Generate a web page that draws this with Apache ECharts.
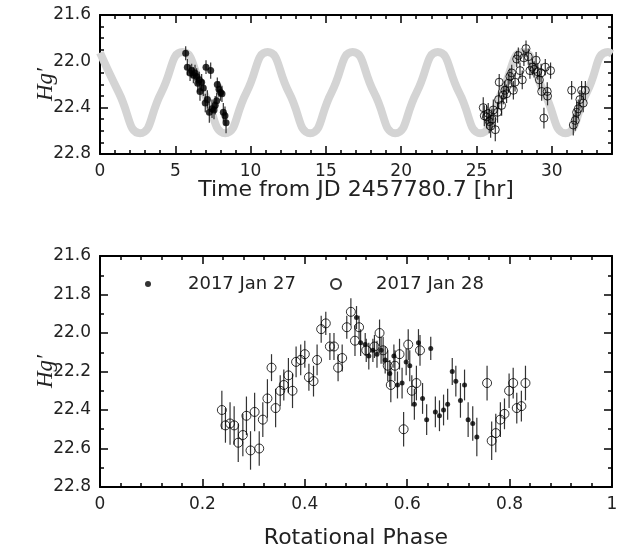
<!DOCTYPE html>
<html>
<head>
<meta charset="utf-8">
<script src="https://cdn.jsdelivr.net/npm/echarts@6/dist/echarts.min.js"></script>
<style>
  html, body { margin: 0; padding: 0; background: #fff; }
  #main { width: 628px; height: 552px; }
</style>
</head>
<body>
<div id="main"></div>
<script>
// model curve (grey), read at peaks / troughs / crossings
var modelTime = [0, 1.25, 2.66, 4.07, 5.48, 6.9, 8.31, 9.72, 11.13, 12.55, 13.96, 15.37, 16.78, 18.2, 19.61, 21.02, 22.43, 23.85, 25.26, 26.67, 28.08, 29.5, 30.91, 32.32, 33.73, 34];
var modelMag = [21.925, 22.27, 22.62, 22.27, 21.92, 22.27, 22.62, 22.27, 21.92, 22.27, 22.62, 22.27, 21.92, 22.27, 22.62, 22.27, 21.92, 22.27, 22.62, 22.27, 21.92, 22.27, 22.62, 22.27, 21.92, 21.935];

// 2017 Jan 27 (filled), time from JD 2457780.7 [hr]
var jan27Time = [5.69, 5.80, 5.98, 6.09, 6.20, 6.31, 6.42, 6.49, 6.59, 6.64, 6.75, 6.86, 6.99, 7.04, 7.13, 7.26, 7.35, 7.44, 7.57, 7.65, 7.75, 7.79, 7.90, 8.01, 8.10, 8.19, 8.30, 8.37];
var jan27Mag = [21.93, 22.05, 22.10, 22.08, 22.12, 22.10, 22.13, 22.19, 22.16, 22.26, 22.18, 22.23, 22.36, 22.05, 22.33, 22.44, 22.08, 22.41, 22.42, 22.38, 22.34, 22.20, 22.24, 22.27, 22.28, 22.44, 22.47, 22.53];
var jan27Err = [0.06, 0.07, 0.07, 0.06, 0.07, 0.07, 0.07, 0.08, 0.07, 0.08, 0.07, 0.07, 0.08, 0.06, 0.08, 0.09, 0.07, 0.08, 0.08, 0.08, 0.07, 0.06, 0.07, 0.07, 0.07, 0.08, 0.08, 0.09];

// 2017 Jan 28 (open)
var jan28Time = [25.45, 25.52, 25.67, 25.78, 25.85, 25.94, 26.03, 26.12, 26.25, 26.40, 26.47, 26.51, 26.67, 26.78, 26.89, 27.00, 27.11, 27.22, 27.34, 27.45, 27.56, 27.67, 27.78, 27.89, 28.04, 28.15, 28.29, 28.44, 28.55, 28.71, 28.83, 28.96, 29.07, 29.18, 29.29, 29.33, 29.48, 29.57, 29.70, 29.72, 29.92, 31.32, 31.43, 31.56, 31.65, 31.76, 31.87, 31.98, 32.09, 32.23];
var jan28Mag = [22.40, 22.47, 22.48, 22.45, 22.52, 22.56, 22.50, 22.42, 22.59, 22.44, 22.33, 22.18, 22.38, 22.29, 22.25, 22.28, 22.19, 22.13, 22.10, 22.25, 22.18, 21.98, 21.95, 22.08, 22.16, 21.97, 21.89, 21.96, 22.08, 22.05, 22.07, 21.99, 22.09, 22.16, 22.10, 22.26, 22.49, 22.05, 22.26, 22.30, 22.08, 22.25, 22.55, 22.51, 22.44, 22.41, 22.33, 22.25, 22.36, 22.25];
var jan28Err = [0.09, 0.09, 0.1, 0.09, 0.1, 0.1, 0.09, 0.09, 0.1, 0.09, 0.08, 0.07, 0.09, 0.08, 0.08, 0.08, 0.08, 0.07, 0.07, 0.08, 0.08, 0.07, 0.07, 0.07, 0.08, 0.07, 0.07, 0.07, 0.07, 0.07, 0.07, 0.07, 0.07, 0.08, 0.08, 0.08, 0.09, 0.07, 0.08, 0.08, 0.07, 0.08, 0.09, 0.09, 0.09, 0.08, 0.08, 0.08, 0.08, 0.08];

// phased
var jan27Phase = [0.501, 0.509, 0.518, 0.525, 0.533, 0.541, 0.549, 0.557, 0.566, 0.574, 0.581, 0.590, 0.598, 0.605, 0.614, 0.622, 0.630, 0.638, 0.646, 0.655, 0.663, 0.671, 0.679, 0.688, 0.695, 0.704, 0.712, 0.719, 0.728, 0.736];
var jan27PhaseMag = [21.92, 22.05, 22.06, 22.12, 22.09, 22.11, 22.09, 22.14, 22.21, 22.12, 22.27, 22.26, 22.15, 22.17, 22.37, 22.05, 22.34, 22.45, 22.08, 22.41, 22.43, 22.40, 22.37, 22.20, 22.25, 22.35, 22.27, 22.45, 22.47, 22.54];
var jan27PhaseErr = [0.06, 0.07, 0.06, 0.07, 0.06, 0.07, 0.07, 0.07, 0.07, 0.06, 0.07, 0.08, 0.07, 0.08, 0.08, 0.07, 0.08, 0.08, 0.06, 0.08, 0.08, 0.08, 0.08, 0.07, 0.08, 0.09, 0.08, 0.09, 0.09, 0.1];

var jan28Phase = [0.238, 0.245, 0.254, 0.262, 0.270, 0.279, 0.286, 0.294, 0.302, 0.311, 0.318, 0.327, 0.335, 0.343, 0.352, 0.359, 0.368, 0.376, 0.383, 0.392, 0.400, 0.408, 0.417, 0.424, 0.432, 0.441, 0.449, 0.457, 0.465, 0.473, 0.482, 0.490, 0.498, 0.506, 0.520, 0.536, 0.546, 0.553, 0.562, 0.568, 0.576, 0.585, 0.593, 0.602, 0.609, 0.618, 0.625, 0.756, 0.765, 0.773, 0.782, 0.790, 0.799, 0.807, 0.814, 0.823, 0.831];
var jan28PhaseMag = [22.40, 22.48, 22.47, 22.48, 22.57, 22.53, 22.43, 22.61, 22.41, 22.60, 22.45, 22.34, 22.18, 22.39, 22.30, 22.27, 22.22, 22.30, 22.15, 22.14, 22.11, 22.23, 22.25, 22.14, 21.98, 21.95, 22.07, 22.07, 22.18, 22.13, 21.97, 21.89, 22.04, 21.97, 22.09, 22.07, 22.00, 22.09, 22.17, 22.27, 22.17, 22.11, 22.50, 22.06, 22.30, 22.26, 22.09, 22.26, 22.56, 22.52, 22.45, 22.42, 22.30, 22.26, 22.39, 22.38, 22.26];
var jan28PhaseErr = [0.1, 0.09, 0.11, 0.1, 0.1, 0.11, 0.1, 0.1, 0.1, 0.09, 0.09, 0.1, 0.07, 0.1, 0.08, 0.08, 0.09, 0.09, 0.08, 0.08, 0.07, 0.07, 0.08, 0.08, 0.07, 0.06, 0.07, 0.07, 0.07, 0.07, 0.06, 0.07, 0.08, 0.06, 0.06, 0.06, 0.07, 0.07, 0.08, 0.09, 0.08, 0.08, 0.09, 0.08, 0.08, 0.09, 0.08, 0.09, 0.1, 0.1, 0.09, 0.08, 0.09, 0.08, 0.08, 0.08, 0.09];

var font = 'DejaVu Sans';
var ink = '#000';

function zip3(a, b, c) {
    return a.map(function (v, i) { return [v, b[i], c[i]]; });
}

function errBar(params, api) {
    var x = api.value(0), y = api.value(1), e = api.value(2);
    var p1 = api.coord([x, y - e]);
    var p2 = api.coord([x, y + e]);
    return {
        type: 'line',
        shape: { x1: p1[0], y1: p1[1], x2: p2[0], y2: p2[1] },
        style: { stroke: '#333', lineWidth: 1.2 }
    };
}

function axis(o) {
    var a = {
        type: 'value',
        gridIndex: o.grid,
        position: o.pos,
        min: o.min,
        max: o.max,
        interval: o.interval,
        inverse: !!o.inverse,
        splitLine: { show: false },
        axisLine: { show: o.line !== false, onZero: false, lineStyle: { color: ink, width: 2 } },
        axisTick: { show: true, inside: true, length: o.tickLen || 8, lineStyle: { color: ink, width: 1.5 } },
        axisLabel: { show: !!o.label, color: '#222', fontFamily: font, fontSize: 17, margin: 9, formatter: o.label },
        minorTick: { show: !!o.minor, splitNumber: o.minor || 5, length: 4, lineStyle: { color: ink, width: 1.5 } }
    };
    if (o.name) {
        a.name = o.name;
        a.nameLocation = 'middle';
        a.nameGap = o.nameGap;
        a.nameRotate = o.nameRotate;
        a.nameMoveOverlap = false;
        a.nameTextStyle = o.nameStyle;
    }
    return a;
}

var yName = { fontFamily: 'Liberation Serif', fontStyle: 'italic', fontSize: 23, color: '#222' };
var xName = { fontFamily: font, fontSize: 22, color: '#222' };
function magLabel(v) { return v.toFixed(1); }

var option = {
    animation: false,
    backgroundColor: '#fff',
    grid: [
        { left: 100, top: 15, width: 512, height: 139 },
        { left: 100, top: 256, width: 512, height: 231 }
    ],
    legend: [
        {
            data: ['2017 Jan 27'], left: 145, top: 274, padding: 0,
            itemWidth: 6, itemHeight: 6, icon: 'circle',
            textStyle: { fontFamily: font, fontSize: 18, color: '#222', lineHeight: 20, padding: [0, 0, 0, 32] }
        },
        {
            data: ['2017 Jan 28'], left: 330, top: 274, padding: 0,
            itemWidth: 10, itemHeight: 10, icon: 'circle',
            textStyle: { fontFamily: font, fontSize: 18, color: '#222', lineHeight: 20, padding: [0, 0, 0, 30] }
        }
    ],
    xAxis: [
        axis({ grid: 0, pos: 'bottom', min: 0, max: 34, interval: 1, tickLen: 4 }),
        axis({ grid: 0, pos: 'bottom', min: 0, max: 34, interval: 5, line: false,
            label: function (v) { return v % 5 === 0 ? String(v) : ''; },
            name: 'Time from JD 2457780.7 [hr]', nameGap: 25, nameStyle: xName }),
        axis({ grid: 0, pos: 'top', min: 0, max: 34, interval: 1, tickLen: 4 }),
        axis({ grid: 0, pos: 'top', min: 0, max: 34, interval: 5, line: false }),
        axis({ grid: 1, pos: 'bottom', min: 0, max: 1, interval: 0.2, minor: 5,
            label: function (v) { return (v === 0 || v === 1) ? String(v) : v.toFixed(1); },
            name: 'Rotational Phase', nameGap: 40, nameStyle: xName }),
        axis({ grid: 1, pos: 'top', min: 0, max: 1, interval: 0.2, minor: 5 })
    ],
    yAxis: [
        axis({ grid: 0, pos: 'left', min: 21.6, max: 22.8, interval: 0.4, minor: 4, inverse: true,
            label: magLabel, name: 'Hg\u2032', nameGap: 43, nameRotate: 90, nameStyle: yName }),
        axis({ grid: 0, pos: 'right', min: 21.6, max: 22.8, interval: 0.4, minor: 4, inverse: true }),
        axis({ grid: 1, pos: 'left', min: 21.6, max: 22.8, interval: 0.2, minor: 2, inverse: true,
            label: magLabel, name: 'Hg\u2032', nameGap: 43, nameRotate: 90, nameStyle: yName }),
        axis({ grid: 1, pos: 'right', min: 21.6, max: 22.8, interval: 0.2, minor: 2, inverse: true })
    ],
    series: [
        {
            type: 'line', name: 'model', xAxisIndex: 1, yAxisIndex: 0, z: 1,
            data: modelTime.map(function (t, i) { return [t, modelMag[i]]; }),
            smooth: 0.55, showSymbol: false, silent: true,
            lineStyle: { color: '#d4d4d4', width: 8 }
        },
        {
            type: 'custom', name: 'err27', xAxisIndex: 1, yAxisIndex: 0, z: 3,
            data: zip3(jan27Time, jan27Mag, jan27Err), renderItem: errBar, encode: { x: 0, y: 1 }
        },
        {
            type: 'custom', name: 'err28', xAxisIndex: 1, yAxisIndex: 0, z: 3,
            data: zip3(jan28Time, jan28Mag, jan28Err), renderItem: errBar, encode: { x: 0, y: 1 }
        },
        {
            type: 'scatter', name: '2017 Jan 27', xAxisIndex: 1, yAxisIndex: 0, z: 4,
            data: jan27Time.map(function (t, i) { return [t, jan27Mag[i]]; }),
            symbol: 'circle', symbolSize: 7, itemStyle: { color: ink }
        },
        {
            type: 'scatter', name: '2017 Jan 28', xAxisIndex: 1, yAxisIndex: 0, z: 4,
            data: jan28Time.map(function (t, i) { return [t, jan28Mag[i]]; }),
            symbol: 'circle', symbolSize: 8,
            itemStyle: { color: 'rgba(255,255,255,0)', borderColor: ink, borderWidth: 1 }
        },
        {
            type: 'custom', name: 'errP27', xAxisIndex: 4, yAxisIndex: 2, z: 3,
            data: zip3(jan27Phase, jan27PhaseMag, jan27PhaseErr), renderItem: errBar, encode: { x: 0, y: 1 }
        },
        {
            type: 'custom', name: 'errP28', xAxisIndex: 4, yAxisIndex: 2, z: 3,
            data: zip3(jan28Phase, jan28PhaseMag, jan28PhaseErr), renderItem: errBar, encode: { x: 0, y: 1 }
        },
        {
            type: 'scatter', name: '2017 Jan 27', xAxisIndex: 4, yAxisIndex: 2, z: 4,
            data: jan27Phase.map(function (t, i) { return [t, jan27PhaseMag[i]]; }),
            symbol: 'circle', symbolSize: 5, itemStyle: { color: ink }
        },
        {
            type: 'scatter', name: '2017 Jan 28', xAxisIndex: 4, yAxisIndex: 2, z: 4,
            data: jan28Phase.map(function (t, i) { return [t, jan28PhaseMag[i]]; }),
            symbol: 'circle', symbolSize: 9,
            itemStyle: { color: 'rgba(255,255,255,0)', borderColor: ink, borderWidth: 1 }
        }
    ]
};

var chart = echarts.init(document.getElementById('main'));
chart.setOption(option);
</script>
</body>
</html>
